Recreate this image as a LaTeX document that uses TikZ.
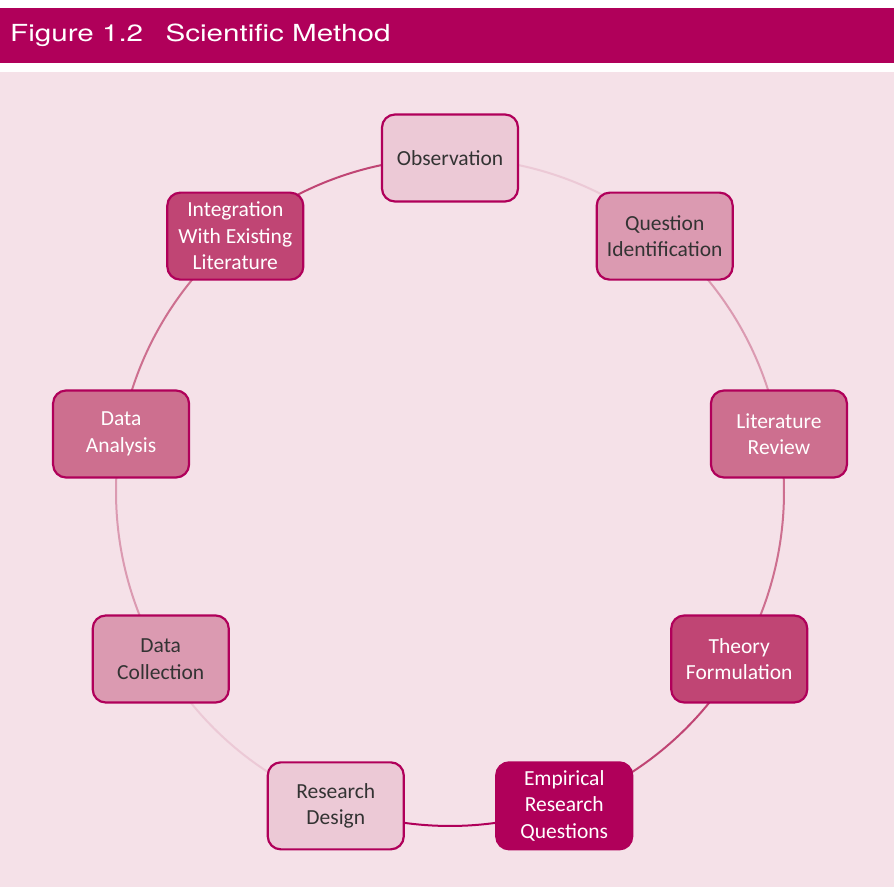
\documentclass[tikz,border=0pt]{standalone}
\usepackage{fontspec}
\setmainfont{Carlito}
\newfontfamily\headfont[FakeStretch=1.26]{TeX Gyre Heros}
\usetikzlibrary{backgrounds}
\definecolor{b0005a}{rgb}{0.690,0,0.353}
\definecolor{c04574}{rgb}{0.753,0.271,0.455}
\definecolor{cd6f8f}{rgb}{0.804,0.435,0.561}
\definecolor{db9ab1}{rgb}{0.859,0.604,0.694}
\definecolor{ecc9d6}{rgb}{0.925,0.788,0.839}
\definecolor{f5e1e8}{rgb}{0.961,0.882,0.910}
\definecolor{txtdark}{rgb}{0.2,0.2,0.2}

\begin{document}
\begin{tikzpicture}[x=1pt,y=1pt,line cap=round,line join=round,
  stepbox/.style={draw=b0005a,line width=2.2pt,rounded corners=13pt,minimum width=136pt,minimum height=87pt,inner sep=0pt,align=center,font=\fontsize{21.5}{26.5}\selectfont},
  lightbox/.style={stepbox,text=txtdark},
  darkbox/.style={stepbox,text=white}]
\useasboundingbox (0,0) rectangle (894,887);

\begin{scope}[on background layer]
\fill[white] (0,0) rectangle (894,887);
\fill[f5e1e8] (0,0) rectangle (894,815);
\end{scope}

% title band
\fill[b0005a] (0,824) rectangle (894,879);
\node[anchor=base west,inner sep=0pt,text=white,font=\headfont\fontsize{23.5}{23.5}\selectfont] (title) at (10,845) {Figure 1.2\hspace{0.95em}Scientific Method};

% cycle
\coordinate (c) at (450,395);
\node[lightbox,fill=ecc9d6] (obs) at ([shift={(90:334)}]c) {Observation};
\node[lightbox,fill=db9ab1] (qid) at ([shift={(50:334)}]c) {Question\\Identification};
\node[darkbox,fill=cd6f8f] (lit) at ([shift={(10:334)}]c) {Literature\\Review};
\node[darkbox,fill=c04574] (thf) at ([shift={(-30:334)}]c) {Theory\\Formulation};
\node[darkbox,fill=b0005a] (emp) at ([shift={(-70:334)}]c) {Empirical\\Research\\Questions};
\node[lightbox,fill=ecc9d6] (rde) at ([shift={(-110:334)}]c) {Research\\Design};
\node[lightbox,fill=db9ab1] (dco) at ([shift={(-150:334)}]c) {Data\\Collection};
\node[darkbox,fill=cd6f8f] (dan) at ([shift={(170:334)}]c) {Data\\Analysis};
\node[darkbox,fill=c04574] (int) at ([shift={(130:334)}]c) {Integration\\With Existing\\Literature};

\begin{scope}[on background layer]
\foreach \a/\b/\o/\i/\col in {obs/qid/0/140/ecc9d6,qid/lit/-40/100/db9ab1,lit/thf/-80/60/cd6f8f,
  thf/emp/-120/20/c04574,emp/rde/-160/-20/b0005a,rde/dco/160/-60/ecc9d6,
  dco/dan/120/-100/db9ab1,dan/int/80/-140/cd6f8f,int/obs/40/180/c04574}
  \draw[\col,line width=2pt] (\a.center) to[out=\o,in=\i,looseness=0.88] (\b.center);
\end{scope}

\end{tikzpicture}
\end{document}
